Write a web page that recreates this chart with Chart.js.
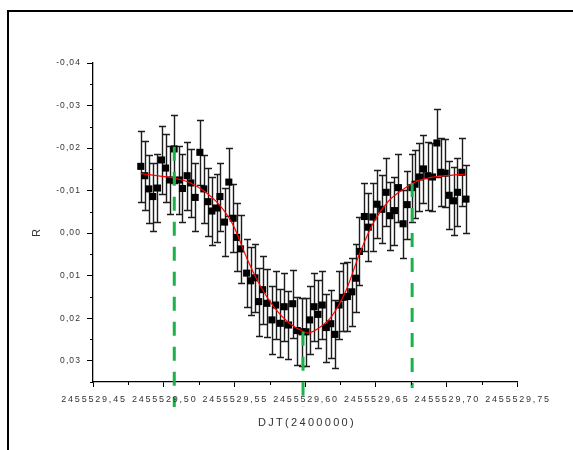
<!DOCTYPE html>
<html>
<head>
<meta charset="utf-8">
<script src="https://cdn.jsdelivr.net/npm/chart.js@4.4.0/dist/chart.umd.min.js"></script>
<style>
  html, body { margin: 0; padding: 0; background: #fff; overflow: hidden; }
  #frame { position: absolute; left: 7px; top: 10px; width: 620px; height: 520px; border: 2px solid #000; }
  #wrap { position: absolute; left: 0; top: 0; width: 573px; height: 450px; }
</style>
</head>
<body>
<div id="frame"></div>
<div id="wrap"><canvas id="lightCurve"></canvas></div>
<script>
// observations (DJT, R mag diff, error)
const obsTime = [
  2455529.4838, 2455529.4866, 2455529.4895, 2455529.4923, 2455529.4956, 2455529.4985, 2455529.5013, 2455529.5043, 2455529.5074, 2455529.5109,
  2455529.5133, 2455529.5166, 2455529.5192, 2455529.5223, 2455529.5256, 2455529.5284, 2455529.5313, 2455529.5341, 2455529.5374, 2455529.5398,
  2455529.5431, 2455529.5461, 2455529.5492, 2455529.5516, 2455529.5544, 2455529.5587, 2455529.5615, 2455529.5646, 2455529.5672, 2455529.5700,
  2455529.5731, 2455529.5766, 2455529.5792, 2455529.5825, 2455529.5853, 2455529.5883, 2455529.5913, 2455529.5945, 2455529.5979, 2455529.6007,
  2455529.6033, 2455529.6064, 2455529.6092, 2455529.6122, 2455529.6151, 2455529.6182, 2455529.6212, 2455529.6241, 2455529.6269, 2455529.6300,
  2455529.6331, 2455529.6359, 2455529.6385, 2455529.6420, 2455529.6448, 2455529.6480, 2455529.6510, 2455529.6543, 2455529.6574, 2455529.6602,
  2455529.6633, 2455529.6661, 2455529.6694, 2455529.6723, 2455529.6756, 2455529.6779, 2455529.6810, 2455529.6838, 2455529.6869, 2455529.6902,
  2455529.6933, 2455529.6961, 2455529.6992, 2455529.7020, 2455529.7051, 2455529.7079, 2455529.7110, 2455529.7139
];
const obsMag = [
  -0.0157, -0.0135, -0.0104, -0.0086, -0.0106, -0.0172, -0.0153, -0.0125, -0.0198, -0.0125,
  -0.0105, -0.0135, -0.0118, -0.0084, -0.0190, -0.0104, -0.0074, -0.0052, -0.0059, -0.0086,
  -0.0026, -0.0120, -0.0035, 0.0010, 0.0037, 0.0094, 0.0112, 0.0105, 0.0161, 0.0133,
  0.0165, 0.0204, 0.0169, 0.0212, 0.0173, 0.0216, 0.0166, 0.0229, 0.0232, 0.0232,
  0.0204, 0.0173, 0.0191, 0.0169, 0.0222, 0.0213, 0.0238, 0.0169, 0.0151, 0.0149,
  0.0138, 0.0106, 0.0043, -0.0039, -0.0014, -0.0038, -0.0068, -0.0056, -0.0096, -0.0041,
  -0.0053, -0.0107, -0.0022, -0.0067, -0.0107, -0.0115, -0.0132, -0.0151, -0.0135, -0.0132,
  -0.0212, -0.0143, -0.0141, -0.0089, -0.0076, -0.0096, -0.0143, -0.0080
];
const obsErr = [
  0.0083, 0.0081, 0.0080, 0.0080, 0.0080, 0.0081, 0.0080, 0.0080, 0.0080, 0.0080,
  0.0080, 0.0080, 0.0080, 0.0080, 0.0077, 0.0080, 0.0080, 0.0080, 0.0080, 0.0080,
  0.0080, 0.0080, 0.0080, 0.0080, 0.0080, 0.0080, 0.0080, 0.0080, 0.0080, 0.0080,
  0.0080, 0.0080, 0.0080, 0.0080, 0.0080, 0.0080, 0.0080, 0.0080, 0.0080, 0.0080,
  0.0080, 0.0080, 0.0080, 0.0080, 0.0080, 0.0080, 0.0080, 0.0080, 0.0080, 0.0080,
  0.0080, 0.0080, 0.0080, 0.0080, 0.0080, 0.0080, 0.0080, 0.0080, 0.0080, 0.0080,
  0.0080, 0.0080, 0.0080, 0.0080, 0.0080, 0.0080, 0.0080, 0.0080, 0.0080, 0.0080,
  0.0079, 0.0080, 0.0080, 0.0080, 0.0080, 0.0080, 0.0080, 0.0080
];

// fitted curve
const fitTime = [
  2455529.4838, 2455529.4975, 2455529.5080, 2455529.5190, 2455529.5290, 2455529.5390,
  2455529.5490, 2455529.5590, 2455529.5690, 2455529.5790, 2455529.5890, 2455529.5990,
  2455529.6020, 2455529.6090, 2455529.6190, 2455529.6290, 2455529.6390, 2455529.6490,
  2455529.6590, 2455529.6690, 2455529.6790, 2455529.6890, 2455529.6990, 2455529.7139
];
const fitMag = [
  -0.0140, -0.0134, -0.0129, -0.0118, -0.0098, -0.0068,
  -0.0020, 0.0060, 0.0128, 0.0178, 0.0212, 0.0232,
  0.0235, 0.0225, 0.0195, 0.0135, 0.0045, -0.0028,
  -0.0075, -0.0102, -0.0122, -0.0131, -0.0135, -0.0139
];

// marked times (green dashed)
const markTime = [2455529.5075, 2455529.5986, 2455529.6758];
const markTop = [-0.0203, 0.0232, -0.0118];
const markBottom = [0.0409, 0.0409, 0.0364];

const xTicks = [2455529.45, 2455529.50, 2455529.55, 2455529.60, 2455529.65, 2455529.70, 2455529.75];
const xTickLabels = ['2455529,45', '2455529,50', '2455529,55', '2455529,60', '2455529,65', '2455529,70', '2455529,75'];
const yTicks = [-0.04, -0.03, -0.02, -0.01, 0.00, 0.01, 0.02, 0.03];
const yTickLabels = ['-0,04', '-0,03', '-0,02', '-0,01', '0,00', '0,01', '0,02', '0,03'];

const FONT = '"Liberation Sans", Arial, sans-serif';

const markData = [];
markTime.forEach((t, i) => {
  markData.push({ x: t, y: markTop[i] }, { x: t, y: markBottom[i] }, { x: t, y: null });
});

// error bars under the markers
const errorBars = {
  id: 'errorBars',
  beforeDatasetsDraw(chart) {
    const { ctx, scales: { x, y } } = chart;
    ctx.save();
    ctx.strokeStyle = '#1c1c1c';
    ctx.lineWidth = 1.4;
    obsTime.forEach((t, i) => {
      const px = Math.round(x.getPixelForValue(t)) + 0.5;
      const top = Math.round(y.getPixelForValue(obsMag[i] - obsErr[i])) + 0.5;
      const bot = Math.round(y.getPixelForValue(obsMag[i] + obsErr[i])) + 0.5;
      ctx.beginPath();
      ctx.moveTo(px, top); ctx.lineTo(px, bot);
      ctx.moveTo(px - 3.5, top); ctx.lineTo(px + 3.5, top);
      ctx.moveTo(px - 3.5, bot); ctx.lineTo(px + 3.5, bot);
      ctx.stroke();
    });
    ctx.restore();
  }
};

// minor ticks, tick labels and axis titles (letter-spaced like the original)
const axisText = {
  id: 'axisText',
  afterDraw(chart) {
    const { ctx, scales: { x, y }, chartArea } = chart;
    ctx.save();
    ctx.strokeStyle = '#000';
    ctx.lineWidth = 1;
    ctx.beginPath();
    for (let i = 0; i < xTicks.length - 1; i++) {
      const px = Math.round(x.getPixelForValue((xTicks[i] + xTicks[i + 1]) / 2)) + 0.5;
      ctx.moveTo(px, chartArea.bottom); ctx.lineTo(px, chartArea.bottom + 3);
    }
    for (let i = 0; i < yTicks.length; i++) {
      const v = yTicks[i] + 0.005;
      const py = Math.round(y.getPixelForValue(v)) + 0.5;
      ctx.moveTo(chartArea.left, py); ctx.lineTo(chartArea.left - 3, py);
    }
    ctx.stroke();

    ctx.fillStyle = '#333';
    ctx.textBaseline = 'middle';
    ctx.font = '8.5px ' + FONT;
    ctx.letterSpacing = '1.1px';
    ctx.textAlign = 'right';
    yTicks.forEach((v, i) => {
      ctx.fillText(yTickLabels[i], 81, y.getPixelForValue(v));
    });

    ctx.font = '9px ' + FONT;
    ctx.letterSpacing = '1.8px';
    ctx.textAlign = 'center';
    xTicks.forEach((v, i) => {
      ctx.fillText(xTickLabels[i], x.getPixelForValue(v) + 1, 400);
    });

    ctx.font = '11px ' + FONT;
    ctx.letterSpacing = '2.3px';
    ctx.fillText('DJT(2400000)', 307, 423);

    ctx.letterSpacing = '0px';
    ctx.translate(37, 233);
    ctx.rotate(-Math.PI / 2);
    ctx.fillText('R', 0, 0);
    ctx.restore();
  }
};

new Chart(document.getElementById('lightCurve'), {
  type: 'scatter',
  data: {
    datasets: [
      {
        type: 'line',
        data: markData,
        borderColor: '#1cb14a',
        borderWidth: 3,
        borderDash: [14, 11],
        pointRadius: 0,
        spanGaps: false,
        clip: false
      },
      {
        type: 'line',
        data: fitTime.map((t, i) => ({ x: t, y: fitMag[i] })),
        borderColor: '#ff0000',
        borderWidth: 1.2,
        pointRadius: 0,
        cubicInterpolationMode: 'monotone'
      },
      {
        data: obsTime.map((t, i) => ({ x: t, y: obsMag[i] })),
        pointStyle: 'rect',
        pointRadius: 5,
        backgroundColor: '#000',
        borderWidth: 0
      }
    ]
  },
  options: {
    responsive: true,
    maintainAspectRatio: false,
    animation: false,
    layout: { padding: { left: 0, top: 63, right: 56, bottom: 0 } },
    plugins: { legend: { display: false }, tooltip: { enabled: false } },
    scales: {
      x: {
        type: 'linear',
        min: 2455529.45,
        max: 2455529.75,
        afterBuildTicks: s => { s.ticks = xTicks.map(v => ({ value: v })); },
        afterFit: s => { s.height = 68; },
        ticks: { display: false },
        grid: { drawOnChartArea: false, drawTicks: true, tickLength: 5, color: '#000' },
        border: { display: true, color: '#000', width: 1.3 }
      },
      y: {
        reverse: true,
        min: -0.04,
        max: 0.035,
        afterBuildTicks: s => { s.ticks = yTicks.map(v => ({ value: v })); },
        afterFit: s => { s.width = 93; },
        ticks: { display: false },
        grid: { drawOnChartArea: false, drawTicks: true, tickLength: 6, color: '#000' },
        border: { display: true, color: '#000', width: 1.3 }
      }
    }
  },
  plugins: [errorBars, axisText]
});
</script>
</body>
</html>
